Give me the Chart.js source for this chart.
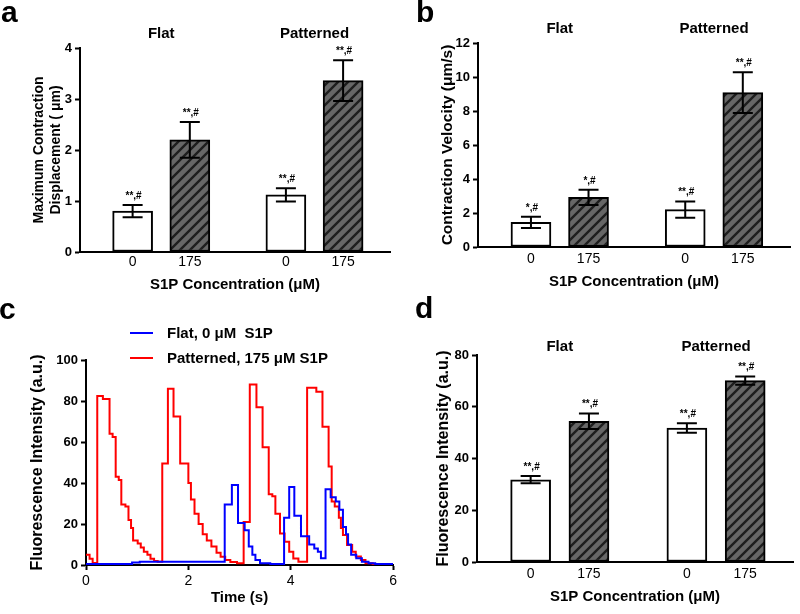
<!DOCTYPE html>
<html>
<head>
<meta charset="utf-8">
<script src="https://cdn.jsdelivr.net/npm/chart.js@4.4.1/dist/chart.umd.min.js"></script>
<style>
  body { margin: 0; background: #fff; width: 800px; height: 614px; position: relative; overflow: hidden; }
  canvas { position: absolute; }
  .panel { position: absolute; font: bold 30px "Liberation Sans", Arial, sans-serif; line-height: 1; color: #000; }
</style>
</head>
<body>
<canvas id="chartA" width="400" height="307" style="left:0;top:0"></canvas>
<canvas id="chartB" width="400" height="307" style="left:400px;top:0"></canvas>
<canvas id="chartC" width="400" height="307" style="left:0;top:307px"></canvas>
<canvas id="chartD" width="400" height="307" style="left:400px;top:307px"></canvas>
<div class="panel" style="left:1px;top:-3px">a</div>
<div class="panel" style="left:416px;top:-3px">b</div>
<div class="panel" style="left:-1px;top:294px">c</div>
<div class="panel" style="left:415px;top:293px">d</div>
<script>
// bar panels: Flat 0, Flat 175, Patterned 0, Patterned 175
const groups = ['Flat', 'Patterned'];
const concLabels = ['0', '175', '0', '175'];
const barPos = [0, 1, 2.68, 3.68];

const dispMean = [0.8, 2.2, 1.12, 3.36];
const dispErr = [0.12, 0.35, 0.13, 0.4];
const dispMarks = ['**,#', '**,#', '**,#', '**,#'];

const velMean = [1.45, 2.92, 2.2, 9.08];
const velErr = [0.33, 0.45, 0.48, 1.2];
const velMarks = ['*,#', '*,#', '**,#', '**,#'];

const fluoMean = [31.8, 54.4, 51.8, 70.1];
const fluoErr = [1.4, 3.0, 1.8, 1.6];
const fluoMarks = ['**,#', '**,#', '**,#', '**,#'];

// panel c traces: time where the value changes (s), new value (a.u.)
const flatT = [0, 0.9, 1.05, 2.71, 2.85, 2.97, 3.1, 3.18, 3.25, 3.31, 3.4, 3.6, 3.87, 3.97, 4.07, 4.2, 4.36, 4.46, 4.53, 4.59, 4.68, 4.78, 4.88, 4.95, 5.02, 5.08, 5.12, 5.18, 5.28, 5.39, 5.52, 5.65, 6];
const flatV = [0.5, 1.2, 1.6, 29.5, 39, 20.5, 17, 9, 5, 2.4, 0.8, 0.5, 23, 38, 24, 14, 10, 8, 6.5, 3.3, 37, 33, 31, 27, 18.5, 15, 10, 5, 3.3, 1.6, 0.8, 0.5, 0.5];

const pattT = [0, 0.07, 0.13, 0.22, 0.33, 0.46, 0.52, 0.58, 0.64, 0.69, 0.77, 0.83, 0.88, 0.92, 1.01, 1.07, 1.13, 1.2, 1.26, 1.33, 1.4,
  1.49, 1.6, 1.71, 1.84, 2.0, 2.05, 2.12, 2.2, 2.28, 2.36, 2.45, 2.55, 2.63, 2.72, 2.82, 2.95,
  3.08, 3.2, 3.33, 3.45, 3.57, 3.64, 3.7, 3.79, 3.88, 3.97, 4.05, 4.15,
  4.32, 4.5, 4.62, 4.74, 4.8, 4.86, 4.94, 4.98, 5.02, 5.1, 5.2, 5.27, 5.37, 5.46, 5.6, 5.7, 6];
const pattV = [5, 3, 1, 82.5, 81, 64, 62.5, 43, 41.5, 29.5, 28.5, 22, 18, 12, 10.5, 8.5, 6.5, 5, 3, 2, 1.6,
  49.5, 86, 72.5, 49.5, 40, 32, 25, 20, 15, 12, 9, 6, 4, 2.5, 1.5, 0.8,
  21, 88, 77, 57.5, 34.5, 33.5, 25, 15.4, 11.4, 6.5, 3.2, 1.6,
  86.5, 84.5, 67.5, 48, 31, 28.5, 23, 18, 14.6, 9.8, 6.5, 4.1, 2.4, 0.8, 0, 0];

const FONT = '"Liberation Sans", Arial, sans-serif';
Chart.defaults.color = '#000';
Chart.defaults.font.family = FONT;

function hatch() {
  const c = document.createElement('canvas');
  c.width = c.height = 10;
  const g = c.getContext('2d');
  g.fillStyle = '#676767';
  g.fillRect(0, 0, 10, 10);
  g.strokeStyle = '#1e1e1e';
  g.lineWidth = 2.4;
  g.beginPath();
  g.moveTo(-2, 12); g.lineTo(12, -2);
  g.moveTo(-2, 2); g.lineTo(2, -2);
  g.moveTo(8, 12); g.lineTo(12, 8);
  g.stroke();
  return g.createPattern(c, 'repeat');
}
const striped = hatch();

const barMarks = {
  id: 'barMarks',
  afterDatasetsDraw(chart, args, opts) {
    if (!opts.errors) return;
    const ctx = chart.ctx;
    const meta = chart.getDatasetMeta(0);
    const ys = chart.scales.y;
    const vals = chart.data.datasets[0].data;
    ctx.save();
    ctx.strokeStyle = '#000';
    ctx.fillStyle = '#000';
    ctx.lineWidth = 2;
    meta.data.forEach((bar, i) => {
      const top = ys.getPixelForValue(vals[i].y + opts.errors[i]);
      const bot = ys.getPixelForValue(vals[i].y - opts.errors[i]);
      ctx.beginPath();
      ctx.moveTo(bar.x, bot); ctx.lineTo(bar.x, top);
      ctx.moveTo(bar.x - 10, top); ctx.lineTo(bar.x + 10, top);
      ctx.moveTo(bar.x - 10, bot); ctx.lineTo(bar.x + 10, bot);
      ctx.stroke();
      ctx.font = 'bold 10px ' + FONT;
      ctx.textAlign = 'center';
      ctx.textBaseline = 'alphabetic';
      ctx.fillText(opts.marks[i], bar.x + 1, top - 6);
    });
    ctx.font = 'bold 15px ' + FONT;
    ctx.textBaseline = 'middle';
    groups.forEach((g, k) => {
      const x = (meta.data[2 * k].x + meta.data[2 * k + 1].x) / 2;
      ctx.fillText(g, x, opts.groupY);
    });
    ctx.restore();
  }
};

const lineLegend = {
  id: 'lineLegend',
  afterDraw(chart, args, opts) {
    if (!opts.rows) return;
    const ctx = chart.ctx;
    ctx.save();
    ctx.font = 'bold 15px ' + FONT;
    ctx.textBaseline = 'middle';
    ctx.fillStyle = '#000';
    chart.data.datasets.forEach((ds, i) => {
      const y = opts.rows[i];
      ctx.strokeStyle = ds.borderColor;
      ctx.lineWidth = 2;
      ctx.beginPath();
      ctx.moveTo(opts.x, y); ctx.lineTo(opts.x + 23, y);
      ctx.stroke();
      ctx.fillText(ds.label, opts.x + 37, y + 1);
    });
    ctx.restore();
  }
};

function yAxis(max, step, title, w, titlePad, titleSize, lineH) {
  return {
    min: 0, max: max,
    ticks: { stepSize: step, padding: 3, font: { size: 13, weight: 'bold' } },
    grid: { drawOnChartArea: false, tickLength: 5, tickWidth: 2, color: '#000' },
    border: { color: '#000', width: 2 },
    title: { display: true, text: title, padding: { top: titlePad, bottom: 0 },
             font: { size: titleSize, weight: 'bold', lineHeight: lineH || 1.2 } },
    afterFit: s => { s.width = w; }
  };
}

function barChart(id, mean, err, marks, yOpts, layout, xTickPad, xTitlePad, groupY) {
  const data = mean.map((v, i) => ({ x: barPos[i], y: v }));
  return new Chart(document.getElementById(id), {
    type: 'bar',
    data: {
      datasets: [{
        data: data,
        backgroundColor: ['#fff', striped, '#fff', striped],
        borderColor: '#000',
        borderWidth: 2,
        borderSkipped: false,
        barThickness: 40
      }]
    },
    options: {
      responsive: false,
      animation: false,
      layout: { padding: layout },
      plugins: {
        legend: { display: false },
        tooltip: { enabled: false },
        barMarks: { errors: err, marks: marks, groupY: groupY }
      },
      scales: {
        x: {
          type: 'linear', min: -0.92, max: 4.5, offset: false,
          afterBuildTicks: s => { s.ticks = barPos.map(v => ({ value: v })); },
          ticks: { padding: xTickPad, font: { size: 14 }, callback: (v, i) => concLabels[i] },
          grid: { display: false, drawTicks: false, offset: false },
          border: { color: '#000', width: 2 },
          title: { display: true, text: 'S1P Concentration (\u03bcM)', padding: { top: 0, bottom: xTitlePad },
                   font: { size: 15, weight: 'bold' } },
          afterFit: s => { s.height = 307 - layout.top - (yOpts._h); }
        },
        y: yOpts
      }
    },
    plugins: [barMarks]
  });
}

// panel a: chart area 80..390 x 48..252
const yA = yAxis(4, 1, ['Maximum Contraction', 'Displacement ( \u03bcm)'], 80, 31, 14, 17 / 14);
yA._h = 204;
barChart('chartA', dispMean, dispErr, dispMarks, yA, { left: 0, right: 10, top: 48, bottom: 0 }, 2, 13, 34);

// panel b: chart area 78..390 x 43..247
const yB = yAxis(12, 2, 'Contraction Velocity (\u03bcm/s)', 78, 38, 15.5);
yB._h = 204;
barChart('chartB', velMean, velErr, velMarks, yB, { left: 0, right: 10, top: 43, bottom: 0 }, 4, 16, 29);

// panel d: chart area 77..393 x 48..255
const yD = yAxis(80, 20, 'Fluorescence Intensity (a.u.)', 77, 34, 16);
yD._h = 207;
barChart('chartD', fluoMean, fluoErr, fluoMarks, yD, { left: 0, right: 7, top: 48, bottom: 0 }, 4, 8, 40);

// panel c: chart area 86..398 x 53..258
const yC = yAxis(100, 20, 'Fluorescence Intensity (a.u.)', 86, 28, 16);
new Chart(document.getElementById('chartC'), {
  type: 'line',
  data: {
    datasets: [
      { label: 'Flat, 0 \u03bcM  S1P', data: flatT.map((t, i) => ({ x: t, y: flatV[i] })),
        borderColor: '#0000ff', borderWidth: 2, pointRadius: 0, stepped: true, fill: false },
      { label: 'Patterned, 175 \u03bcM S1P', data: pattT.map((t, i) => ({ x: t, y: pattV[i] })),
        borderColor: '#ff0000', borderWidth: 2, pointRadius: 0, stepped: true, fill: false }
    ]
  },
  options: {
    responsive: false,
    animation: false,
    layout: { padding: { left: 0, right: 2, top: 53, bottom: 0 } },
    plugins: {
      legend: { display: false },
      tooltip: { enabled: false },
      lineLegend: { x: 130, rows: [26, 51] }
    },
    scales: {
      x: {
        type: 'linear', min: 0, max: 6,
        ticks: { stepSize: 2, padding: 3, font: { size: 14 } },
        grid: { drawOnChartArea: false, tickLength: 5, tickWidth: 2, color: '#000' },
        border: { color: '#000', width: 2 },
        title: { display: true, text: 'Time (s)', padding: { top: 0, bottom: 7 }, font: { size: 15, weight: 'bold' } },
        afterFit: s => { s.height = 307 - 53 - 205; }
      },
      y: yC
    }
  },
  plugins: [lineLegend]
});
</script>
</body>
</html>
